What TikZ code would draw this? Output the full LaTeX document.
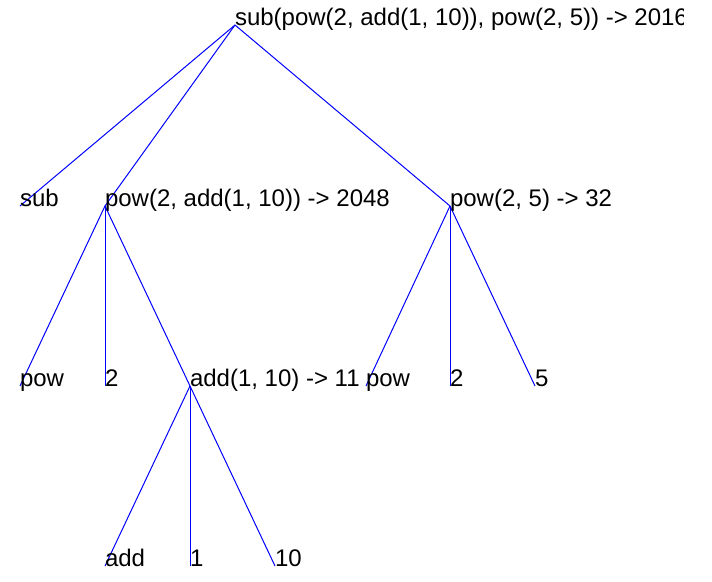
\documentclass[tikz,border=0pt]{standalone}
\usepackage{fontspec}
\setmainfont{Liberation Sans}
\begin{document}
\begin{tikzpicture}[x=1pt,y=-1pt,
  lbl/.style={anchor=base west,inner sep=0pt,outer sep=0pt,font=\fontsize{24}{28}\selectfont,text=black},
  edge/.style={draw=blue,line width=1pt}]
\useasboundingbox (0,0) rectangle (712,581);
\clip (0,0) rectangle (683,581);
% anchor points
\coordinate (r) at (235,25);
\coordinate (a) at (20,206);
\coordinate (b) at (105,206);
\coordinate (c) at (450,206);
\coordinate (b1) at (20,386);
\coordinate (b2) at (105,386);
\coordinate (b3) at (190,386);
\coordinate (c1) at (366,386);
\coordinate (c2) at (450,386);
\coordinate (c3) at (535,386);
\coordinate (d1) at (105,566);
\coordinate (d2) at (190,566);
\coordinate (d3) at (275,566);
% edges
\draw[edge] (r) -- (a);
\draw[edge] (r) -- (b);
\draw[edge] (r) -- (c);
\draw[edge] (b) -- (b1);
\draw[edge] (b) -- (b2);
\draw[edge] (b) -- (b3);
\draw[edge] (c) -- (c1);
\draw[edge] (c) -- (c2);
\draw[edge] (c) -- (c3);
\draw[edge] (b3) -- (d1);
\draw[edge] (b3) -- (d2);
\draw[edge] (b3) -- (d3);
% labels
\node[lbl] (tr) at (r) {sub(pow(2, add(1, 10)), pow(2, 5)) -> 2016};
\node[lbl] (ta) at (a) {sub};
\node[lbl] (tb) at (b) {pow(2, add(1, 10)) -> 2048};
\node[lbl] (tc) at (c) {pow(2, 5) -> 32};
\node[lbl] (tb1) at (b1) {pow};
\node[lbl] (tb2) at (b2) {2};
\node[lbl] (tb3) at (b3) {add(1, 10) -> 11};
\node[lbl] (tc1) at (c1) {pow};
\node[lbl] (tc2) at (c2) {2};
\node[lbl] (tc3) at (c3) {5};
\node[lbl] (td1) at (d1) {add};
\node[lbl] (td2) at (d2) {1};
\node[lbl] (td3) at (d3) {10};
\end{tikzpicture}
\end{document}
